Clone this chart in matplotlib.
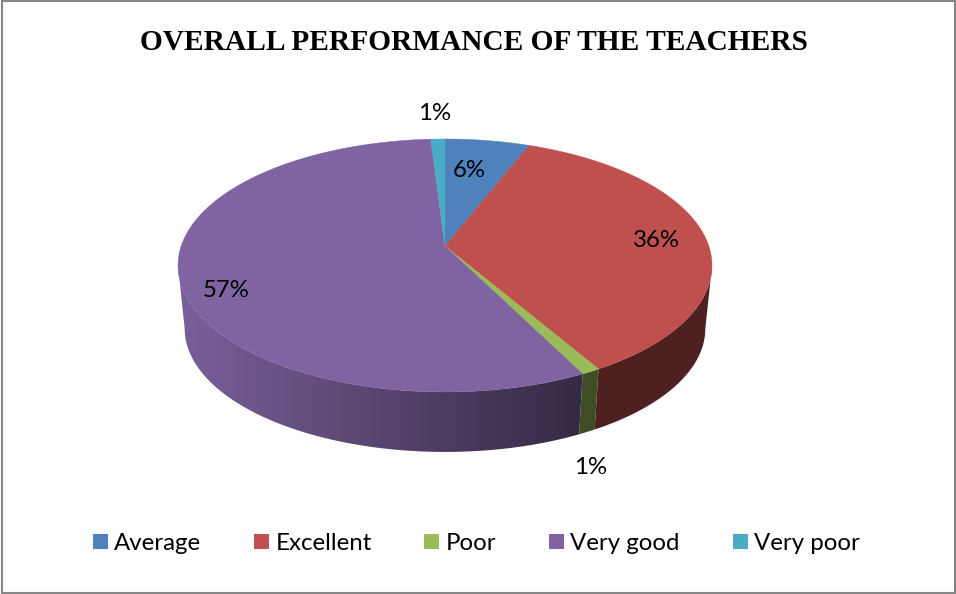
import numpy as np
import matplotlib
matplotlib.use("Agg")
import matplotlib.pyplot as plt
from matplotlib.patches import Rectangle, Polygon

categories = ["Average", "Excellent", "Poor", "Very good", "Very poor"]
values = [6, 36, 1, 57, 1]
colors = ["#4F81BD", "#C0504D", "#9BBB59", "#8064A2", "#4BACC6"]

title = "OVERALL PERFORMANCE OF THE TEACHERS"

# pie geometry in image pixels
cx, cy = 445, 246
rx, ry = 263.8, 123.5
persp = 0.154
depth = 63.6
shrink = 0.975

# label / legend layout
label_pos = [(469, 170.5), (656, 240.5), (591, 467.5), (226, 290.5), (435, 113.5)]
swatch_x = [93, 254, 424, 549, 733]
text_x = [114, 276, 446, 570, 754]


def rim(theta, bottom=False):
    # theta clockwise from the top, perspective circle -> screen
    u, v = np.sin(theta), np.cos(theta)
    w = 1 + persp * v
    x, y = rx * u / w, -ry * v / w
    if bottom:
        return cx + shrink * x, cy + depth + shrink * y
    return cx + x, cy + y


def shade(hex_color, x):
    f = np.clip(0.95 - (x - 180) / 400 * 0.53, 0.41, 1.0)
    return np.outer(f, matplotlib.colors.to_rgb(hex_color))


fig = plt.figure(figsize=(9.56, 5.94), dpi=100)
ax = fig.add_axes([0, 0, 1, 1])
ax.axis("off")

ax.add_patch(Rectangle((2.5, 0.5), 952.5, 592, fc="white", ec="#868686", lw=1.5))

edges = np.cumsum([0] + values) / sum(values) * 2 * np.pi

# side wall: x gradient clipped to each slice's visible band
for i, col in enumerate(colors):
    t = np.linspace(edges[i], edges[i + 1], 800)
    t = t[np.cos(t) <= -persp]  # silhouette is at the widest point, not at 90 deg
    if len(t) < 2:
        continue
    x1, y1 = rim(t)
    x2, y2 = rim(t, True)
    xs = np.r_[x1, x2[::-1]]
    ys = np.r_[y1, y2[::-1]]
    poly = Polygon(np.c_[xs, ys], closed=True, transform=ax.transData)
    grid = np.arange(int(xs.min()) - 1, int(xs.max()) + 3)
    rgb = shade(col, grid)[None, :, :]
    im = ax.imshow(rgb, extent=(grid[0], grid[-1], ys.max() + 1, ys.min() - 1),
                   aspect="auto", interpolation="bilinear", zorder=2)
    im.set_clip_path(poly)

# top surface
for i, col in enumerate(colors):
    t = np.linspace(edges[i], edges[i + 1], 200)
    x, y = rim(t)
    ax.fill(np.r_[cx, x], np.r_[cy, y], fc=col, ec=col, lw=0.3, zorder=3)

for v, (x, y) in zip(values, label_pos):
    ax.text(x, y, f"{v}%", ha="center", va="center", fontsize=17.3,
            family="Lato", color="black", zorder=4)

ax.text(474, 43, title, ha="center", va="center", fontsize=21.2,
        family="Liberation Serif", weight="bold", color="black")

for name, col, sx, tx in zip(categories, colors, swatch_x, text_x):
    ax.add_patch(Rectangle((sx, 534), 15, 15, fc=col, ec="none"))
    ax.text(tx, 544, name, ha="left", va="center", fontsize=17.3,
            family="Lato", color="black")

ax.set_xlim(0, 956)
ax.set_ylim(594, 0)

fig.savefig("out.png", dpi=100)
